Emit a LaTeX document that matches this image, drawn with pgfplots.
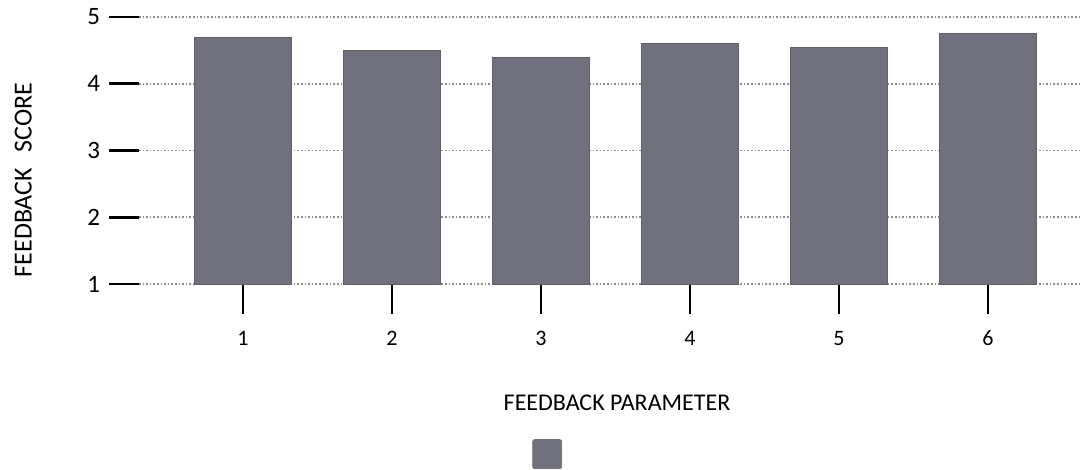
\documentclass[border=0pt]{standalone}
\usepackage{pgfplots}
\pgfplotsset{compat=1.18}
\usepackage{fontspec}
\setmainfont{Carlito}
\definecolor{barcol}{RGB}{112,113,124}
\definecolor{gridcol}{RGB}{140,140,140}
\begin{document}
\begin{tikzpicture}
\begin{axis}[
  scale only axis,
  width=470.5pt, height=133.5pt,
  xmin=0.302, xmax=6.617,
  ymin=1, ymax=5,
  ybar, bar width=48.5pt, bar shift=0pt,
  axis x line*=bottom, axis y line*=left,
  axis line style={draw=none},
  xtick={1,2,3,4,5,6},
  ytick={1,2,3,4,5},
  ymajorgrids,
  grid style={gridcol, line width=0.8pt, densely dotted},
  tick align=outside,
  major tick length=15pt,
  ytick style={black, line width=1.3pt},
  xtick style={black, line width=1.2pt},
  /pgf/number format/assume math mode=true,
  yticklabel style={font=\fontsize{12.5}{14}\selectfont, xshift=-1pt},
  xticklabel style={font=\fontsize{11}{13}\selectfont, yshift=-5pt},
  xlabel={FEEDBACK PARAMETER},
  ylabel={FEEDBACK\hspace{0.6em}SCORE},
  xlabel style={font=\fontsize{12}{14}\selectfont, at={(axis description cs:0.508,-0.446)}, anchor=center},
  ylabel style={font=\fontsize{13}{15}\selectfont, at={(axis description cs:-0.123,0.39)}, anchor=center, rotate=0},
  legend style={at={(axis description cs:0.438,-0.637)}, anchor=center, draw=none, fill=none,
    inner sep=0pt, outer sep=0pt},
  legend image code/.code={\fill[barcol, rounded corners=1pt] (0pt,-7.25pt) rectangle (14.5pt,7.25pt);},
  clip=true,
]
\addplot[fill=barcol, draw=barcol!85!black, line width=0.4pt] coordinates {
  (1,4.70) (2,4.50) (3,4.40) (4,4.60) (5,4.54) (6,4.75)
};
\addlegendentry{}
\coordinate (BL) at (axis description cs:-0.1477,-0.6966);
\coordinate (TR) at (axis description cs:1,1.0637);
\end{axis}
\pgfresetboundingbox
\path[use as bounding box] (BL) rectangle (TR);
\end{tikzpicture}
\end{document}
